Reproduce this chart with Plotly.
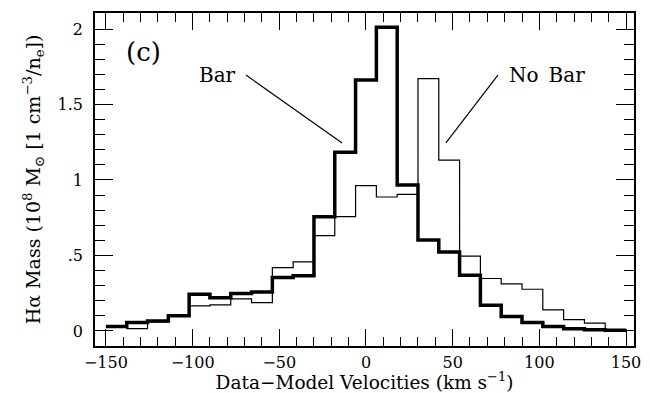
import plotly.graph_objects as go

# Bin edges (km/s) and histogram heights (10^8 Msun)
bin_edges = [-150, -138, -126, -114, -102, -90, -78, -66, -54, -42, -30, -18, -6,
             6, 18, 30, 42, 54, 66, 78, 90, 102, 114, 126, 138, 150]
bar_mass = [0.03, 0.055, 0.065, 0.10, 0.243, 0.22, 0.247, 0.258, 0.353, 0.366,
            0.757, 1.183, 1.662, 2.011, 0.967, 0.603, 0.523, 0.369, 0.170, 0.095,
            0.055, 0.029, 0.015, 0.007, 0.005]
nobar_mass = [0.03, 0.015, 0.06, 0.10, 0.166, 0.172, 0.212, 0.188, 0.419, 0.457,
              0.631, 0.757, 0.963, 0.887, 0.905, 1.671, 1.132, 0.495, 0.347, 0.311,
              0.276, 0.139, 0.075, 0.051, 0.005]
y_label_alias = {"0.5": ".5"}

FONT = "DejaVu Serif"
X_RANGE = [-156.3, 154.6]
Y_RANGE = [-0.1, 2.106]

def steps(vals):
    return vals + [vals[-1]]

fig = go.Figure()
fig.add_trace(go.Scatter(x=bin_edges, y=steps(nobar_mass), mode="lines",
                         line=dict(shape="hv", color="black", width=1.2),
                         showlegend=False))
fig.add_trace(go.Scatter(x=bin_edges, y=steps(bar_mass), mode="lines",
                         line=dict(shape="hv", color="black", width=3.5),
                         showlegend=False))

# annotation leader lines
fig.add_shape(type="line", x0=-69.2, y0=1.695, x1=-13.8, y1=1.245,
              line=dict(color="black", width=1.2))
fig.add_shape(type="line", x0=76.1, y0=1.695, x1=46.1, y1=1.245,
              line=dict(color="black", width=1.2))

fig.add_annotation(x=-128.6, y=1.85, text="(c)", showarrow=False,
                   font=dict(family=FONT, size=26, color="black"))
fig.add_annotation(x=-85.4, y=1.695, text="Bar", showarrow=False,
                   font=dict(family=FONT, size=20, color="black"))
fig.add_annotation(x=104.4, y=1.695, text="No\u2002Bar", showarrow=False,
                   font=dict(family=FONT, size=20, color="black"))

axis_common = dict(showgrid=False, zeroline=False, showline=True, linecolor="black",
                   linewidth=1.5, mirror="allticks", ticks="inside", tickcolor="black",
                   tickwidth=1.4, automargin=False,
                   tickfont=dict(family=FONT, size=16, color="black"))

fig.update_layout(
    width=650, height=393, margin=dict(l=95, r=16, t=13, b=47),
    plot_bgcolor="white", paper_bgcolor="white",
    xaxis=dict(range=X_RANGE, tickmode="linear", tick0=0, dtick=50, ticklen=17,
               ticklabelstandoff=1,
               minor=dict(tickmode="linear", tick0=0, dtick=10, ticks="inside",
                          ticklen=9, tickwidth=1.4, tickcolor="black", showgrid=False),
               title=dict(text="Data\u2212Model Velocities (km s<sup>\u22121</sup>)",
                          font=dict(family=FONT, size=18.5, color="black"), standoff=0),
               **axis_common),
    yaxis=dict(range=Y_RANGE, tickmode="linear", tick0=0, dtick=0.5,
               labelalias=y_label_alias, ticklen=18, ticklabelstandoff=7,
               minor=dict(tickmode="linear", tick0=0, dtick=0.1, ticks="inside",
                          ticklen=10, tickwidth=1.4, tickcolor="black", showgrid=False),
               title=dict(text="H\u03b1 Mass (10<sup>8</sup> M<sub>\u2299</sub> [1 cm<sup>\u22123</sup>/n<sub>e</sub>])",
                          font=dict(family=FONT, size=19, color="black"), standoff=12),
               **axis_common),
)

fig.write_html("out.html")
